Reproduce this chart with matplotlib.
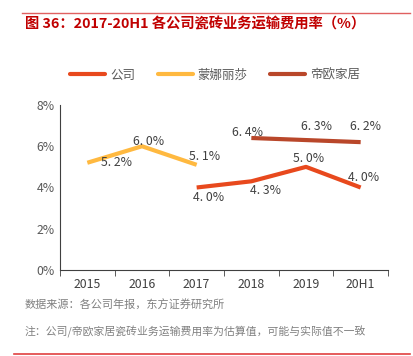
import matplotlib
matplotlib.use("Agg")
import matplotlib.pyplot as plt
from matplotlib.lines import Line2D
import numpy as np

plt.rcParams['font.family'] = ['Noto Sans CJK SC', 'DejaVu Sans']

categories = ['2015', '2016', '2017', '2018', '2019', '20H1']
series_names = ['公司', '蒙娜丽莎', '帝欧家居']
company = [None, None, 4.0, 4.3, 5.0, 4.0]
monalisa = [5.2, 6.0, 5.1, None, None, None]
dido = [None, None, None, 6.4, 6.3, 6.2]
yticks = [0, 2, 4, 6, 8]

colors = ['#E8491D', '#FFB940', '#B9472A']
label_offsets = {
    0: {2: (12, -10), 3: (14, -9), 4: (3, 8), 5: (3, 10)},
    1: {0: (29, 0), 1: (7, 5), 2: (8, 8)},
    2: {3: (-4, 5), 4: (11, 14), 5: (5, 16)},
}

fig = plt.figure(figsize=(4.14, 3.56), dpi=100)
ax = fig.add_axes([60/414, 1-270/356, 328/414, 165/356])

x = np.arange(len(categories))
handles = []
for i, vals in enumerate([company, monalisa, dido]):
    xs = [xi for xi, v in zip(x, vals) if v is not None]
    ys = [v for v in vals if v is not None]
    ax.plot(xs, ys, color=colors[i], lw=3, solid_capstyle='butt')
    handles.append(Line2D([0], [0], color=colors[i], lw=3, solid_capstyle='round'))
    for xi, v in zip(xs, ys):
        dx, dy = label_offsets[i][xi]
        ax.annotate(f'{v:.1f}%'.replace('.', '. '), (xi, v), xytext=(dx, dy),
                    textcoords='offset pixels', ha='center', va='center',
                    fontsize=8.8, color='#404040')

ax.set_xlim(-0.5, len(categories) - 0.5)
ax.set_ylim(0, 8)
ax.set_yticks(yticks)
ax.set_yticklabels([f'{t}%' for t in yticks])
ax.set_xticks(x)
ax.set_xticklabels(categories)
ax.set_xticks(np.arange(-0.5, len(categories), 1), minor=True)
ax.tick_params(axis='x', which='major', length=0, pad=6, labelsize=8.8, labelcolor='#404040')
ax.tick_params(axis='x', which='minor', length=4, direction='out', color='#404040')
ax.tick_params(axis='y', length=0, labelsize=8.8, labelcolor='#595959', pad=4)
for s in ['top', 'right']:
    ax.spines[s].set_visible(False)
ax.spines['left'].set_color('#404040')
ax.spines['bottom'].set_color('#404040')

fig.legend(handles, series_names, loc='center', bbox_to_anchor=(0.52, 1-75/356), ncol=3,
           frameon=False, fontsize=9, handlelength=2.8, columnspacing=1.8,
           handletextpad=0.4, labelcolor='#595959')

fig.add_artist(Line2D([22/414, 410/414], [1-13/356, 1-13/356], color='#E06060', lw=1))
fig.add_artist(Line2D([14/414, 410/414], [1-354/356, 1-354/356], color='#E04040', lw=1.2))
fig.text(25/414, 1-25/356, '图 36：2017-20H1 各公司瓷砖业务运输费用率（%）', fontsize=10.3,
         fontweight='bold', color='#C00000', va='center', ha='left')
fig.text(25/414, 1-305/356, '数据来源：各公司年报，东方证券研究所', fontsize=8,
         color='#808080', va='center', ha='left')
fig.text(25/414, 1-332/356, '注：公司/帝欧家居瓷砖业务运输费用率为估算值，可能与实际值不一致', fontsize=7.8,
         color='#808080', va='center', ha='left')

fig.savefig('out.png', dpi=100)
